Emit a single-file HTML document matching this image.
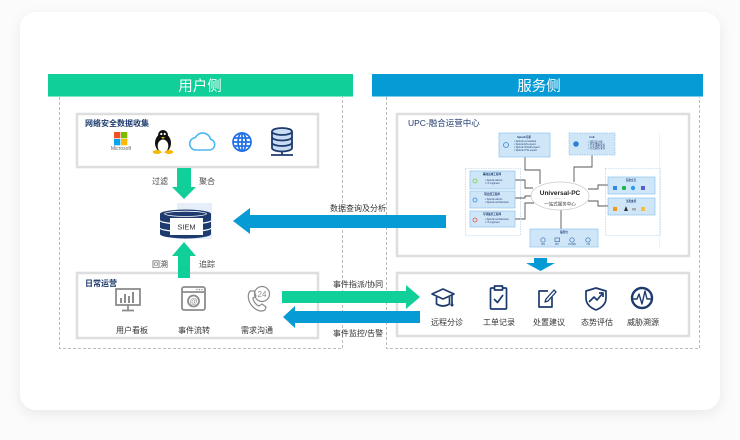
<!DOCTYPE html>
<html><head><meta charset="utf-8"><style>
html,body{margin:0;padding:0;background:#fbfbfc;}
body{width:740px;height:440px;overflow:hidden;}
svg{display:block;font-family:"Liberation Sans","Noto Sans CJK SC",sans-serif;}
</style></head><body>
<svg width="740" height="440" viewBox="0 0 740 440" xmlns="http://www.w3.org/2000/svg">
<defs>
<filter id="sh" x="-10%" y="-10%" width="120%" height="125%"><feDropShadow dx="0" dy="4" stdDeviation="6" flood-color="#000" flood-opacity="0.07"/></filter>
</defs>
<rect x="0" y="0" width="740" height="440" fill="#fbfbfc"/>
<rect x="20" y="12" width="700" height="398" rx="16" fill="#fff" filter="url(#sh)"/>

<!-- headers -->
<rect x="48" y="74" width="305" height="23" fill="#10cf98"/>
<rect x="48" y="96" width="305" height="1" fill="#7fe6c6"/>
<text x="200" y="91" font-size="14.5" fill="#fff" text-anchor="middle">用户侧</text>
<rect x="372" y="74" width="331" height="23" fill="#079bd6"/>
<rect x="372" y="96" width="331" height="1" fill="#7fcdee"/>
<text x="539" y="91" font-size="14.5" fill="#fff" text-anchor="middle">服务侧</text>

<!-- dashed containers -->
<path d="M59.5 97 V348.5 H342.5 V97" fill="none" stroke="#a8a8a8" stroke-width="0.8" stroke-dasharray="3 2"/>
<path d="M386.5 97 V348.5 H699.5 V97" fill="none" stroke="#a8a8a8" stroke-width="0.8" stroke-dasharray="3 2"/>

<!-- inner panels -->
<rect x="77" y="114" width="241" height="53" fill="#fff" stroke="#dedede" stroke-width="2.5"/>
<rect x="77" y="273" width="241" height="65" fill="#fff" stroke="#dedede" stroke-width="2.5"/>
<rect x="397" y="114" width="292" height="142" fill="#fff" stroke="#dedede" stroke-width="2.5"/>
<rect x="397" y="273" width="292" height="63" fill="#fff" stroke="#dedede" stroke-width="2.5"/>

<text x="85" y="126" font-size="8" font-weight="bold" fill="#1d3b6e">网络安全数据收集</text>
<text x="85" y="286" font-size="8" font-weight="bold" fill="#1d3b6e">日常运营</text>
<text x="408" y="126" font-size="8.5" fill="#1d3b6e">UPC-融合运营中心</text>

<!-- collection icons -->
<rect x="114" y="132" width="6.3" height="6.3" fill="#f25022"/>
<rect x="121" y="132" width="6.3" height="6.3" fill="#7fba00"/>
<rect x="114" y="139" width="6.3" height="6.3" fill="#00a4ef"/>
<rect x="121" y="139" width="6.3" height="6.3" fill="#ffb900"/>
<text x="121" y="150" font-size="5" fill="#666" text-anchor="middle">Microsoft</text>

<ellipse cx="163" cy="143" rx="8" ry="9.5" fill="#111"/>
<circle cx="163" cy="135" r="5" fill="#111"/>
<ellipse cx="163" cy="146" rx="5.3" ry="6.5" fill="#fff"/>
<circle cx="161.3" cy="134" r="1.1" fill="#fff"/><circle cx="164.7" cy="134" r="1.1" fill="#fff"/>
<path d="M161 137 L165 137 L163 139 Z" fill="#f5b800"/>
<ellipse cx="157" cy="152" rx="4.2" ry="2" fill="#f5b800"/>
<ellipse cx="169" cy="152" rx="4.2" ry="2" fill="#f5b800"/>

<path d="M195 150 H210 A5.5 5.5 0 0 0 210.5 139.2 A8 8 0 0 0 195.5 137.5 A6.3 6.3 0 0 0 195 150 Z" fill="none" stroke="#4bb8f0" stroke-width="1.6"/>

<g fill="none" stroke="#1f6fe8" stroke-width="1.7">
<circle cx="242" cy="142" r="9"/>
<ellipse cx="242" cy="142" rx="4" ry="9"/>
<line x1="242" y1="133" x2="242" y2="151"/>
<line x1="233" y1="142" x2="251" y2="142"/>
<line x1="234.5" y1="138" x2="249.5" y2="138"/>
<line x1="234.5" y1="146" x2="249.5" y2="146"/>
</g>

<g stroke="#1d3b6e" stroke-width="1.8">
<path d="M272 131.5 V148 A10 3.5 0 0 0 292 148 V131.5" fill="#c9dcf3"/>
<ellipse cx="282" cy="131.5" rx="10" ry="3.5" fill="#c9dcf3"/>
<path d="M272 137 A10 3.5 0 0 0 292 137 M272 142.5 A10 3.5 0 0 0 292 142.5" fill="none"/>
<line x1="282" y1="151.5" x2="282" y2="155"/>
<line x1="271" y1="155" x2="293" y2="155"/>
</g>

<!-- green down arrow -->
<polygon points="177,168 191,168 191,187 196,187 184,199 172,187 177,187" fill="#10cf98"/>
<text x="160" y="184" font-size="8" fill="#444" text-anchor="middle">过滤</text>
<text x="207" y="184" font-size="8" fill="#444" text-anchor="middle">聚合</text>

<!-- SIEM -->
<rect x="177" y="203" width="35" height="36" fill="#e6eef9"/>
<g fill="#1d3b6e">
<path d="M160 214 A25.5 4.5 0 0 1 211 214 V234 A25.5 4.5 0 0 1 160 234 Z"/>
</g>
<ellipse cx="185.5" cy="213.8" rx="21" ry="2.6" fill="none" stroke="#fff" stroke-width="0.8"/>
<path d="M160 220.5 A25.5 3.5 0 0 0 211 220.5 M160 228 A25.5 3.5 0 0 0 211 228" fill="none" stroke="#fff" stroke-width="1.2"/>
<rect x="170" y="218" width="33" height="17" fill="#fff"/>
<text x="186.5" y="229.5" font-size="7.5" fill="#333" text-anchor="middle">SIEM</text>

<!-- green up arrow -->
<polygon points="184,242 196,256 190,256 190,278 178,278 178,256 172,256" fill="#10cf98"/>
<text x="160" y="267" font-size="8" fill="#444" text-anchor="middle">回溯</text>
<text x="207" y="267" font-size="8" fill="#444" text-anchor="middle">追踪</text>

<!-- blue left arrow data -->
<polygon points="233,221 250,208 250,215 446,215 446,228 250,228 250,234" fill="#079bd6"/>
<text x="358" y="211" font-size="8" fill="#333" text-anchor="middle">数据查询及分析</text>

<!-- daily ops icons -->
<g fill="none" stroke="#8c8c8c" stroke-width="1.8">
<rect x="116" y="289" width="24" height="16"/>
<line x1="128" y1="305" x2="128" y2="310"/>
<line x1="122" y1="310.5" x2="134" y2="310.5"/>
<rect x="182" y="287" width="23" height="23" rx="2"/>
<line x1="182" y1="292" x2="205" y2="292"/>
<circle cx="193.5" cy="301" r="5.5"/>
<circle cx="262" cy="294" r="7.5" stroke-width="1.2"/>
<path d="M250 291 C247 295 248 302 253 307 C257 311 262 312 265 310 L266 307 L262 304 L259 306 C256 305 253 301 253 298 L256 296 L254 291 Z" stroke-width="1.2"/>
</g>
<g fill="#8c8c8c">
<rect x="120" y="298" width="2" height="5"/><rect x="124" y="294" width="2" height="9"/><rect x="128" y="296" width="2" height="7"/><rect x="132" y="292" width="2" height="11"/>
<circle cx="197" cy="289.6" r="0.7"/><circle cx="199.5" cy="289.6" r="0.7"/><circle cx="202" cy="289.6" r="0.7"/>
</g>
<text x="193.5" y="304" font-size="8" fill="#8c8c8c" text-anchor="middle">@</text>
<text x="262" y="297" font-size="8" fill="#8c8c8c" text-anchor="middle">24</text>
<text x="132" y="333" font-size="8" fill="#333" text-anchor="middle">用户看板</text>
<text x="194" y="333" font-size="8" fill="#333" text-anchor="middle">事件流转</text>
<text x="257" y="333" font-size="8" fill="#333" text-anchor="middle">需求沟通</text>

<!-- green right arrow -->
<polygon points="282,291 406,291 406,285 420,297 406,309 406,303 282,303" fill="#10cf98"/>
<text x="358" y="287" font-size="8" fill="#333" text-anchor="middle">事件指派/协同</text>
<!-- blue left arrow -->
<polygon points="283,317 295,306 295,311 420,311 420,323 295,323 295,328" fill="#079bd6"/>
<text x="358" y="336" font-size="8" fill="#333" text-anchor="middle">事件监控/告警</text>

<!-- blue down arrow -->
<polygon points="534,258 547,258 547,263 555,263 540.5,271 526,263 534,263" fill="#079bd6"/>

<!-- service icons -->
<g fill="none" stroke="#1d3b6e" stroke-width="1.7" stroke-linejoin="round">
<polygon points="432,294 443,289 454,294 443,299"/>
<path d="M436.5 297 V304 Q443 308 449.5 304 V297"/>
<line x1="452" y1="295" x2="452" y2="304"/>
<rect x="490.5" y="288" width="16" height="21" rx="1"/>
<rect x="494.5" y="286" width="8" height="4" fill="#fff"/>
<polyline points="494,299 497.5,302.5 503,295"/>
<path d="M552 297 V307 H539 V291 H548"/>
<path d="M545 302 L546 299 L554 290 L556 292 L548 301 Z" stroke-width="1.3"/>
<path d="M596 288 L606 291 V298 Q606 306 596 310 Q586 306 586 298 V291 Z"/>
<polyline points="589,302 594,297 597,300 603,293"/>
<polyline points="599,293 603,293 603,297"/>
<circle cx="642" cy="298" r="10" stroke-width="2.4"/>
<polyline points="633,299 637,299 639,294 642,304 645,291 647,299 651,299" stroke-width="1.4"/>
</g>
<circle cx="452" cy="305" r="1.5" fill="#1d3b6e"/>
<text x="447" y="325" font-size="8" fill="#333" text-anchor="middle">远程分诊</text>
<text x="499" y="325" font-size="8" fill="#333" text-anchor="middle">工单记录</text>
<text x="549" y="325" font-size="8" fill="#333" text-anchor="middle">处置建议</text>
<text x="597" y="325" font-size="8" fill="#333" text-anchor="middle">态势评估</text>
<text x="643" y="325" font-size="8" fill="#333" text-anchor="middle">威胁溯源</text>

<!-- mini diagram -->
<line x1="659.5" y1="133" x2="659.5" y2="247" stroke="#eef2f6" stroke-width="1"/>
<g fill="none" stroke="#555" stroke-width="0.9">
<polyline points="525,157 525,170 540,170 540,184"/>
<polyline points="592,155 592,167 574,167 574,182"/>
<polyline points="515,180 525,180 525,188 533,188"/>
<polyline points="515,198 525,198 525,196 531,196"/>
<polyline points="515,219 525,219 525,203 534,203"/>
<line x1="561" y1="210" x2="561" y2="229"/>
<polyline points="588,189 598,189 598,185 608,185"/>
<polyline points="588,201 598,201 598,206 608,206"/>
</g>
<rect x="465.5" y="168.5" width="55" height="67" fill="none" stroke="#a8cbe8" stroke-width="0.6" stroke-dasharray="1.5 1"/>
<rect x="605.5" y="168.5" width="55" height="67" fill="none" stroke="#a8cbe8" stroke-width="0.6" stroke-dasharray="1.5 1"/>
<g fill="#cfe6f9" stroke="#8cc2ec" stroke-width="0.7">
<rect x="499" y="133" width="51" height="24"/>
<rect x="569" y="133" width="46" height="22" stroke-dasharray="1.5 1"/>
<rect x="470" y="171" width="45" height="18"/>
<rect x="470" y="191" width="45" height="17"/>
<rect x="470" y="211" width="45" height="16"/>
<rect x="608" y="177" width="47" height="17"/>
<rect x="608" y="198" width="47" height="17"/>
<rect x="530" y="229" width="68" height="18"/>
</g>
<ellipse cx="560" cy="196" rx="29" ry="14" fill="#fff" stroke="#c9c9c9" stroke-width="0.7"/>
<text x="560" y="195" font-size="6.5" font-weight="bold" fill="#222" text-anchor="middle">Universal-PC</text>
<text x="560" y="199.5" font-size="2.2" fill="#555" text-anchor="middle">• • • •  ·······</text>
<text x="560" y="205.5" font-size="4.5" fill="#333" text-anchor="middle">一站式服务中心</text>
<g font-size="2.6" fill="#1d3b6e">
<text x="524" y="138" text-anchor="middle" font-weight="bold">Splunk专家</text>
<text x="514" y="142">• Splunk consultant</text>
<text x="514" y="145">• Splunk ES expert</text>
<text x="514" y="148">• Splunk SOAR expert</text>
<text x="514" y="151">• Splunk ITSI expert</text>
<text x="592" y="138" text-anchor="middle" font-weight="bold">CoE</text>
<text x="588" y="143">• 流程设计师</text>
<text x="588" y="146">• 行业策略专家</text>
<text x="588" y="149">• 方法提炼专家</text>
<text x="492" y="175" text-anchor="middle" font-weight="bold">基础运维工程师</text>
<text x="485" y="181">• Splunk admin</text>
<text x="485" y="184">• IT engineer</text>
<text x="492" y="195" text-anchor="middle" font-weight="bold">项目部工程师</text>
<text x="485" y="200">• Splunk admin</text>
<text x="485" y="203">• Splunk architecture</text>
<text x="492" y="215" text-anchor="middle" font-weight="bold">专项服务工程师</text>
<text x="485" y="220">• Splunk architecture</text>
<text x="485" y="223">• IT engineer</text>
<text x="631" y="181" text-anchor="middle" font-weight="bold">信息交互</text>
<text x="631" y="202" text-anchor="middle" font-weight="bold">生态支持</text>
<text x="564" y="233" text-anchor="middle" font-weight="bold">服务台</text>
</g>
<g font-size="2" fill="#1d3b6e">
<text x="543" y="245" text-anchor="middle">电话</text>
<text x="557" y="245" text-anchor="middle">邮件</text>
<text x="572" y="245" text-anchor="middle">企业微信</text>
<text x="588" y="245" text-anchor="middle">工单</text>
</g>
<circle cx="506" cy="145" r="2.5" fill="none" stroke="#3a86d6" stroke-width="0.8"/>
<circle cx="576" cy="144" r="2.8" fill="#2e7fd6"/>
<circle cx="475" cy="181" r="2" fill="none" stroke="#7ccf3a" stroke-width="0.8"/>
<circle cx="475" cy="200" r="2" fill="none" stroke="#3a86d6" stroke-width="0.8"/>
<circle cx="475" cy="220" r="2" fill="none" stroke="#e0564a" stroke-width="0.8"/>
<rect x="613" y="186" width="4" height="4" fill="#2d8be0"/>
<rect x="622" y="186" width="4" height="4" rx="1" fill="#1fb649"/>
<circle cx="633" cy="188" r="2.2" fill="#2aa0e6"/>
<rect x="641" y="186" width="4" height="4" fill="#5a5fc8"/>
<rect x="613" y="207" width="4" height="4" fill="#f29a1a"/>
<path d="M624 211 L626 206 L628 211 Z" fill="#333"/>
<rect x="632" y="208" width="4" height="2.5" fill="#aaa"/>
<rect x="641" y="207" width="4" height="4" fill="#f5c040"/>
<g fill="none" stroke="#3a6fb0" stroke-width="0.7">
<circle cx="543" cy="240" r="2.2"/><rect x="555" y="238" width="4.5" height="3.5"/><circle cx="572" cy="240" r="2.2"/><circle cx="588" cy="240" r="2.2"/>
</g>
</svg>
</body></html>
